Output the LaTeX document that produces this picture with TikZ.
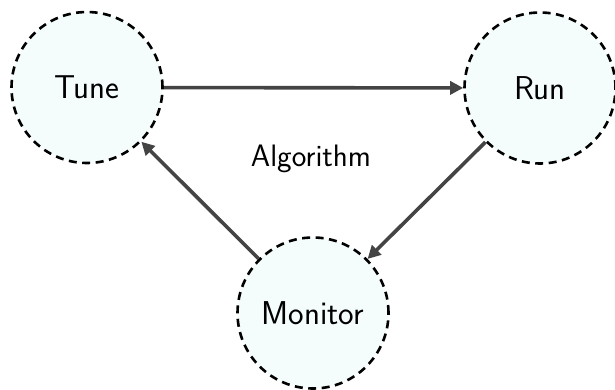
\documentclass[tikz,border=0pt]{standalone}
\usetikzlibrary{arrows.meta}
\begin{document}
\begin{tikzpicture}[x=1pt,y=-1pt,
  state/.style={circle,draw=black,dashed,line width=2.6pt,dash pattern=on 8pt off 5.5pt,fill={rgb,255:red,245;green,252;blue,252},minimum size=151pt,inner sep=0pt,font=\sffamily\fontsize{33}{38}\selectfont},
  conn/.style={draw={rgb,255:red,68;green,68;blue,68},line width=3.6pt,-{Triangle[length=13pt,width=13pt]}},
  lbl/.style={font=\sffamily\fontsize{31}{36}\selectfont}]
\useasboundingbox (0,0) rectangle (615,389);
\node[state] (tune) at (87,87.5) {Tune};
\node[state] (run) at (540,88) {Run};
\node[state] (monitor) at (313,313) {Monitor};
\node[lbl] (alg) at (311,159) {Algorithm};
\draw[conn] (tune) -- (run);
\draw[conn] (run) -- (monitor);
\draw[conn] (monitor) -- (tune);
\end{tikzpicture}
\end{document}
